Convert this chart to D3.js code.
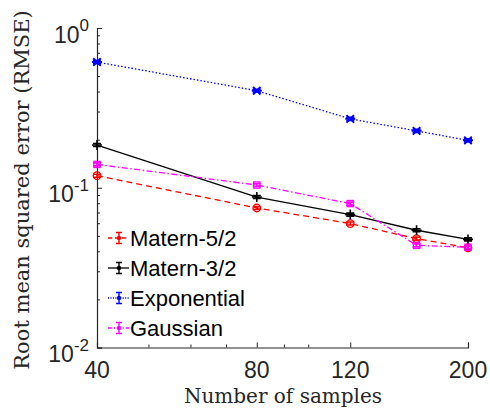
<!DOCTYPE html>
<html>
<head>
<meta charset="utf-8">
<script src="https://cdn.jsdelivr.net/npm/d3@7"></script>
<style>
  html, body { margin: 0; padding: 0; background: #fff; }
  svg { display: block; }
</style>
</head>
<body>
<svg id="chart" width="490" height="415"></svg>
<script>
// Sample sizes on the x axis
const samples = [40, 80, 120, 160, 200];

// RMSE for each covariance kernel
const matern52 = [0.119, 0.0747, 0.0597, 0.0480, 0.0421];
const matern32 = [0.185, 0.0875, 0.0679, 0.0542, 0.0475];
const exponential = [0.612, 0.405, 0.270, 0.227, 0.198];
const gaussian = [0.140, 0.104, 0.0796, 0.0436, 0.0424];

const seriesNames = ["Matern-5/2", "Matern-3/2", "Exponential", "Gaussian"];

// Axis ticks
const xTicks = [40, 80, 120, 200];
const xMinorTicks = [50, 60, 70, 90, 100];
const yTicks = [0.01, 0.1, 1];
const yTickExponents = ["-2", "-1", "0"];

const svg = d3.select("#chart");
const axisColor = "#262626";

const x = d3.scaleLog().domain([40, 200]).range([97, 468]);
const y = d3.scaleLog().domain([0.01, 1]).range([347.5, 28]);

const series = [
  { name: seriesNames[0], values: matern52, color: "#ff0000", dash: "6,4", marker: "circle" },
  { name: seriesNames[1], values: matern32, color: "#000000", dash: null, marker: "plus" },
  { name: seriesNames[2], values: exponential, color: "#0000ff", dash: "1.5,2", marker: "star" },
  { name: seriesNames[3], values: gaussian, color: "#ff00ff", dash: "6,2.5,1.5,2.5", marker: "square" }
];

// Axes (ticks point inward)
const gx = svg.append("g").attr("transform", `translate(0,${y(0.01)})`);
gx.call(d3.axisBottom(x).tickValues(xTicks).tickSize(-5).tickFormat(""));
gx.append("g").call(d3.axisBottom(x).tickValues(xMinorTicks).tickSize(-3).tickFormat(""));
gx.selectAll(".domain").attr("stroke", axisColor).attr("stroke-width", 1.2);
gx.selectAll(".tick line").attr("stroke", axisColor).attr("stroke-width", 1);
gx.selectAll("g > g > .domain").remove();

const yMinor = [];
[0.01, 0.1].forEach(d => { for (let k = 2; k <= 9; k++) yMinor.push(d * k); });

const gy = svg.append("g").attr("transform", `translate(${x(40)},0)`);
gy.call(d3.axisLeft(y).tickValues(yTicks).tickSize(-5).tickFormat(""));
gy.append("g").call(d3.axisLeft(y).tickValues(yMinor).tickSize(-3).tickFormat(""));
gy.selectAll(".domain").attr("stroke", axisColor).attr("stroke-width", 1.2);
gy.selectAll(".tick line").attr("stroke", axisColor).attr("stroke-width", 1);
gy.selectAll("g > g > .domain").remove();

// Tick labels
const sans = "Liberation Sans, Arial, sans-serif";
svg.append("g").selectAll("text").data(xTicks).join("text")
  .attr("x", d => x(d)).attr("y", y(0.01) + 30.5)
  .attr("text-anchor", "middle")
  .attr("font-family", sans)
  .attr("font-size", 23).attr("fill", axisColor)
  .text(d => d);

// y labels as base "10" plus a raised exponent, both right-aligned at the axis gap
const ylg = svg.append("g").selectAll("g").data(yTicks).join("g");
ylg.each(function (d, i) {
  const g = d3.select(this);
  const sup = g.append("text")
    .attr("x", 89).attr("y", y(d) + 3)
    .attr("text-anchor", "end")
    .attr("font-family", sans).attr("font-size", 17).attr("fill", axisColor)
    .text(yTickExponents[i]);
  const w = sup.node().getComputedTextLength();
  g.append("text")
    .attr("x", 89 - w).attr("y", y(d) + 14.5)
    .attr("text-anchor", "end")
    .attr("font-family", sans).attr("font-size", 23).attr("fill", axisColor)
    .text("10");
});

// Axis titles
svg.append("text")
  .attr("x", (x(40) + x(200)) / 2 + 0.5).attr("y", 403)
  .attr("text-anchor", "middle")
  .attr("font-family", "DejaVu Serif, serif")
  .attr("font-size", 20).attr("fill", axisColor)
  .text("Number of samples");

svg.append("text")
  .attr("transform", "translate(29,190) rotate(-90)")
  .attr("text-anchor", "middle")
  .attr("font-family", "DejaVu Serif, serif")
  .attr("font-size", 21).attr("fill", axisColor)
  .text("Root mean squared error (RMSE)");

// Marker drawing
function drawMarker(g, type, color, size) {
  const s = size;
  if (type === "circle") {
    g.append("circle").attr("r", s * 0.75).attr("fill", "none").attr("stroke", color).attr("stroke-width", 1.3);
  } else if (type === "square") {
    g.append("rect").attr("x", -s * 0.62).attr("y", -s * 0.62).attr("width", s * 1.24).attr("height", s * 1.24)
      .attr("fill", "none").attr("stroke", color).attr("stroke-width", 1.3);
  } else if (type === "plus") {
    g.append("path").attr("d", `M${-s},0H${s}M0,${-s}V${s}`).attr("stroke", color).attr("stroke-width", 1.6);
  } else if (type === "star") {
    const r = s * 0.75;
    g.append("path").attr("d", `M${-r},${-r}L${r},${r}M${-r},${r}L${r},${-r}M${-s},0H${s}`)
      .attr("stroke", color).attr("stroke-width", 2);
  }
}

const line = d3.line().x((d, i) => x(samples[i])).y(d => y(d));
const plot = svg.append("g");

series.forEach(s => {
  plot.append("path")
    .datum(s.values)
    .attr("d", line)
    .attr("fill", "none")
    .attr("stroke", s.color)
    .attr("stroke-width", 1.3)
    .attr("stroke-dasharray", s.dash);

  const pts = plot.append("g").selectAll("g").data(s.values).join("g")
    .attr("transform", (d, i) => `translate(${x(samples[i])},${y(d)})`);
  // small error bars with caps
  pts.append("path")
    .attr("d", "M-4,-1.5H4M0,-1.5V1.5M-4,1.5H4")
    .attr("stroke", s.color).attr("stroke-width", 1.6).attr("fill", "none");
  pts.each(function () { drawMarker(d3.select(this), s.marker, s.color, 5); });
});

// Legend
const legend = svg.append("g");
series.forEach((s, i) => {
  const cy = 238 + i * 30;
  const row = legend.append("g").attr("transform", `translate(0,${cy})`);
  row.append("line").attr("x1", 108).attr("x2", 129).attr("y1", 0).attr("y2", 0)
    .attr("stroke", s.color).attr("stroke-width", 1.3)
    .attr("stroke-dasharray", s.dash ? s.dash.split(",").map(v => +v * 0.7).join(",") : null);
  row.append("path").attr("d", "M116,-5.5H122M119,-5.5V5.5M116,5.5H122")
    .attr("stroke", s.color).attr("stroke-width", 1.4).attr("fill", "none");
  row.append("circle").attr("cx", 119).attr("cy", 0).attr("r", 2.2).attr("fill", s.color);
  row.append("text")
    .attr("x", 130).attr("y", 8)
    .attr("font-family", sans)
    .attr("font-size", 22).attr("fill", "#000")
    .text(s.name);
});
</script>
</body>
</html>
